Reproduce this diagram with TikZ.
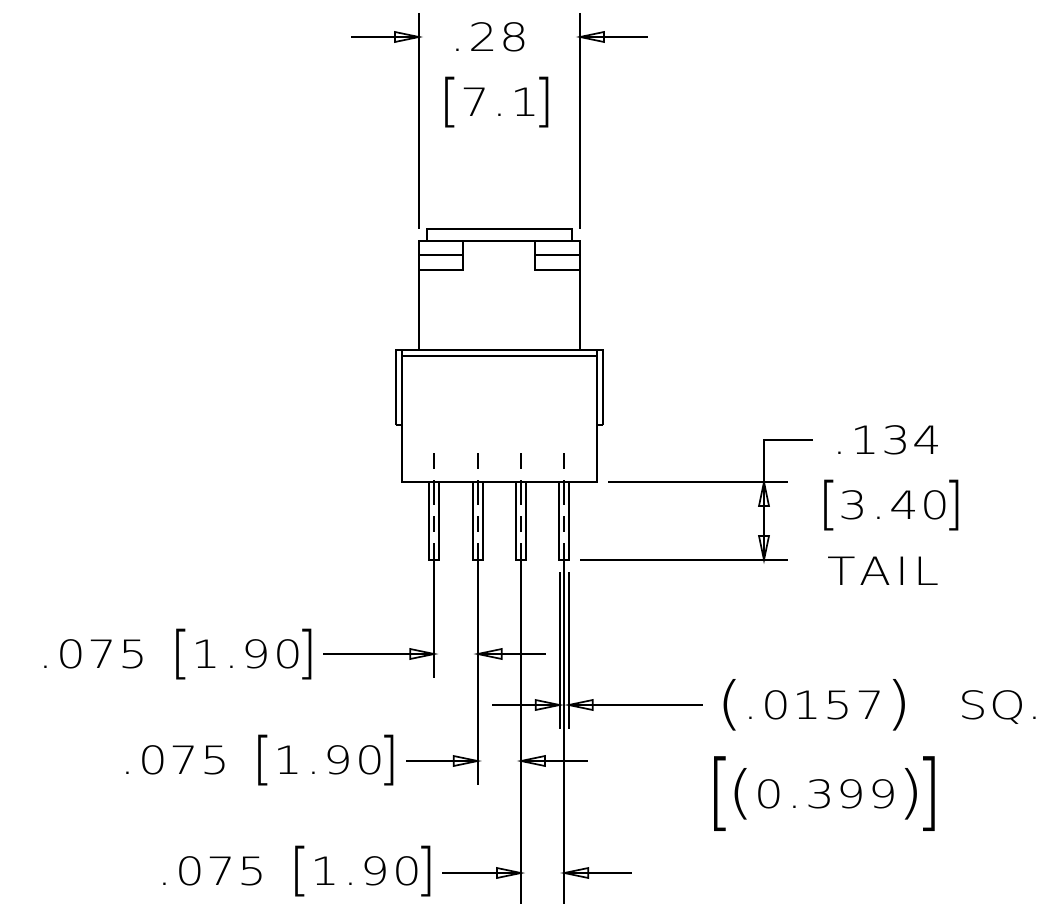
\documentclass[tikz,border=0pt]{standalone}
\usepackage{fontspec}
\usepackage{graphicx}
\newfontfamily\cad[LetterSpace=4,FakeStretch=1.2]{DejaVu Sans ExtraLight}
\newcommand{\LB}{{\fontsize{57}{57}\selectfont\raisebox{-4pt}{\scalebox{.8}[1]{[}}}\hspace{-1pt}}
\newcommand{\RB}{\hspace{-7pt}{\fontsize{57}{57}\selectfont\raisebox{-4pt}{\scalebox{.8}[1]{]}}}}
\newcommand{\LP}{{\fontsize{58}{58}\selectfont\raisebox{-4pt}{(}}}
\newcommand{\RP}{{\fontsize{58}{58}\selectfont\raisebox{-4pt}{)}}}
\newcommand{\LBB}{{\fontsize{84}{84}\selectfont\raisebox{-12pt}{\scalebox{.7}[1]{[}}}\hspace{-6pt}}
\newcommand{\RBB}{\hspace{-10pt}{\fontsize{84}{84}\selectfont\raisebox{-12pt}{\scalebox{.7}[1]{]}}}}
\newcommand{\D}{\hspace{3pt}.\hspace{3pt}}
\tikzset{
  obj/.style={line width=1.9pt,line cap=butt,line join=miter},
  dimline/.style={line width=1.7pt},
  cl/.style={line width=1.7pt},
  cadtext/.style={anchor=base west,inner sep=0pt,font=\cad\fontsize{39}{39}\selectfont}
}
\newcommand{\harrow}[3]{\draw[dimline,line join=miter] (#1,#2) -- ++(#3*24,-5) -- ++(0,10) -- cycle;}
\newcommand{\varrow}[3]{\draw[dimline,line join=miter] (#1,#2) -- ++(-5,#3*24) -- ++(10,0) -- cycle;}
\begin{document}
\begin{tikzpicture}[x=1pt,y=-1pt]
\useasboundingbox (0,0) rectangle (1044,904);
\fill[white] (0,0) rectangle (1044,904);
% switch body
\draw[obj] (427,241) -- (427,229) -- (572,229) -- (572,241);
\draw[obj] (419,350) -- (419,241) -- (580,241) -- (580,350);
\draw[obj] (419,255) -- (464,255);
\draw[obj] (419,270) -- (463,270) -- (463,241);
\draw[obj] (535,255) -- (580,255);
\draw[obj] (580,270) -- (535,270) -- (535,241);
\draw[obj] (396,425) -- (396,350) -- (603,350) -- (603,425);
\draw[obj] (396,425) -- (402,425);
\draw[obj] (597,425) -- (603,425);
\draw[obj] (402,350) -- (402,482) -- (597,482) -- (597,350);
\draw[obj] (402,356) -- (597,356);
% pins
\foreach \px in {434.3,477.7,521,564.3}{
  \draw[obj] (\px-5,482) -- (\px-5,560) -- (\px+5,560) -- (\px+5,482);
  \draw[cl] (\px,453) -- (\px,469);
  \draw[cl] (\px,480) -- (\px,505);
  \draw[cl] (\px,516) -- (\px,532);
  \draw[cl] (\px,543) -- (\px,560);
}
% extension lines of the pins
\draw[dimline] (434.3,560) -- (434.3,678);
\draw[dimline] (477.7,560) -- (477.7,785);
\draw[dimline] (521,560) -- (521,904);
\draw[dimline] (564.3,560) -- (564.3,904);
\draw[dimline] (559.7,572) -- (559.7,729);
\draw[dimline] (568.7,572) -- (568.7,729);
% top dimension
\draw[dimline] (419,13) -- (419,229);
\draw[dimline] (580,13) -- (580,229);
\draw[dimline] (351,37) -- (419,37);
\draw[dimline] (580,37) -- (648,37);
\harrow{419}{37}{-1}
\harrow{580}{37}{1}
% tail dimension
\draw[dimline] (813,440) -- (764,440) -- (764,560);
\draw[dimline] (608,482) -- (788,482);
\draw[dimline] (580,560) -- (788,560);
\varrow{764}{482}{1}
\varrow{764}{560}{-1}
% pitch dimensions
\draw[dimline] (323,654) -- (434.3,654);
\draw[dimline] (477.7,654) -- (546,654);
\harrow{434.3}{654}{-1}
\harrow{477.7}{654}{1}
\draw[dimline] (492,705) -- (559.7,705);
\draw[dimline] (568.7,705) -- (703,705);
\harrow{559.7}{705}{-1}
\harrow{568.7}{705}{1}
\draw[dimline] (406,761) -- (477.7,761);
\draw[dimline] (521,761) -- (588,761);
\harrow{477.7}{761}{-1}
\harrow{521}{761}{1}
\draw[dimline] (442,873) -- (521,873);
\draw[dimline] (564.3,873) -- (632,873);
\harrow{521}{873}{-1}
\harrow{564.3}{873}{1}
% texts
\node[cadtext] (t28) at (450,52) {.\hspace{3pt}28};
\node[cadtext] (t71) at (439.5,117) {\LB7\D1\RB};
\node[cadtext] (t134) at (832,454) {.\hspace{3pt}134};
\node[cadtext] (t340) at (818,519) {\LB3\D40\RB};
\node[cadtext] (ttail) at (827,585) {T\hspace{4pt}A\hspace{4pt}I\hspace{4pt}L};
\node[cadtext] (ta) at (38,668) {.\hspace{3pt}075\hspace{6pt} \LB1\D90\RB};
\node[cadtext] (tb) at (120,774) {.\hspace{3pt}075\hspace{6pt} \LB1\D90\RB};
\node[cadtext] (tc) at (157,885) {.\hspace{3pt}075\hspace{6pt} \LB1\D90\RB};
\node[cadtext] (td) at (716,719) {\LP.\hspace{3pt}0157\RP\hspace{46pt}SQ.};
\node[cadtext] (te) at (706,808) {\LBB\LP0\D399\RP\RBB};
\end{tikzpicture}
\end{document}
